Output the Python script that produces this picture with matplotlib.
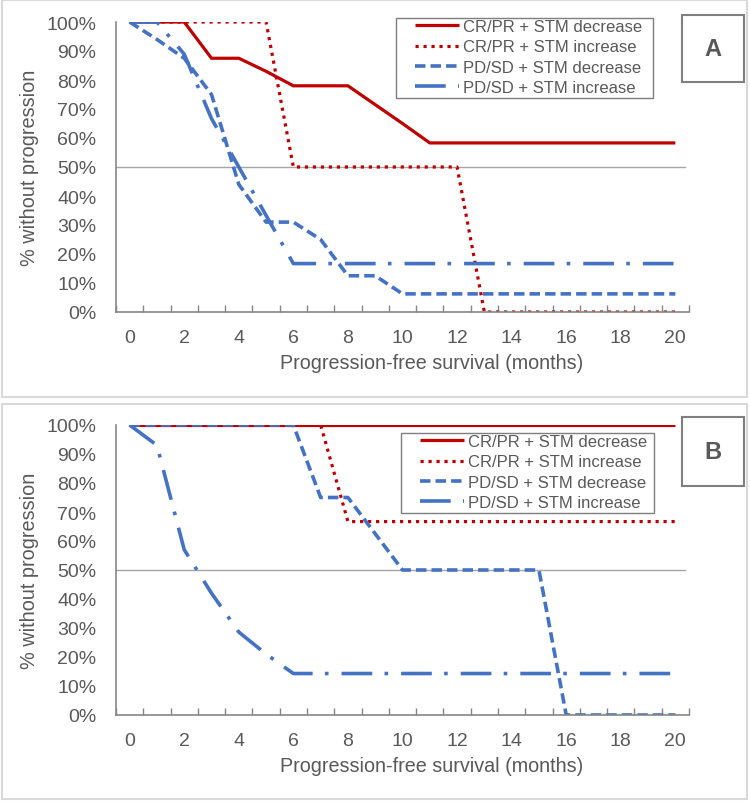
import numpy as np
import matplotlib
matplotlib.use('Agg')
import matplotlib.pyplot as plt
from matplotlib.patches import Rectangle
from matplotlib.ticker import PercentFormatter

plt.rcParams['font.family'] = ['Liberation Sans', 'DejaVu Sans']

# months 0..20 (category axis)
months = np.arange(21)

series_names = ['CR/PR + STM decrease', 'CR/PR + STM increase',
                'PD/SD + STM decrease', 'PD/SD + STM increase']

# panel A (% without progression)
a_crpr_dec = [100, 100, 100, 87.5, 87.5, 83, 78, 78, 78, 71.5, 65,
              58.3, 58.3, 58.3, 58.3, 58.3, 58.3, 58.3, 58.3, 58.3, 58.3]
a_crpr_inc = [100, 100, 100, 100, 100, 100, 50, 50, 50, 50, 50,
              50, 50, 0, 0, 0, 0, 0, 0, 0, 0]
a_pdsd_dec = [100, 94, 87.5, 75, 44, 31, 31, 25, 12.5, 12.5, 6.25,
              6.25, 6.25, 6.25, 6.25, 6.25, 6.25, 6.25, 6.25, 6.25, 6.25]
a_pdsd_inc = [100, 100, 88.9, 66.7, 50, 33.3, 16.7, 16.7, 16.7, 16.7, 16.7,
              16.7, 16.7, 16.7, 16.7, 16.7, 16.7, 16.7, 16.7, 16.7, 16.7]

# panel B
b_crpr_dec = [100] * 21
b_crpr_inc = [100, 100, 100, 100, 100, 100, 100, 100, 66.7, 66.7, 66.7,
              66.7, 66.7, 66.7, 66.7, 66.7, 66.7, 66.7, 66.7, 66.7, 66.7]
b_pdsd_dec = [100, 100, 100, 100, 100, 100, 100, 75, 75, 62.5, 50,
              50, 50, 50, 50, 50, 0, 0, 0, 0, 0]
b_pdsd_inc = [100, 93, 57, 42, 28.6, 21, 14.3, 14.3, 14.3, 14.3, 14.3,
              14.3, 14.3, 14.3, 14.3, 14.3, 14.3, 14.3, 14.3, 14.3, 14.3]

median_line = 50

red = '#C00000'
blue = '#4472C4'
txt = '#595959'
axis_gray = '#868686'

styles = [
    dict(color=red, lw=2.3, ls='-', solid_capstyle='butt'),
    dict(color=red, lw=2.3, ls=(0, (1.0, 1.5)), dash_capstyle='butt'),
    dict(color=blue, lw=2.6, ls=(0, (2.9, 1.4)), dash_capstyle='butt'),
    dict(color=blue, lw=2.6, ls=(0, (8.5, 3.4, 1.0, 3.6)), dash_capstyle='butt'),
]

fig = plt.figure(figsize=(7.5, 8.03), dpi=100)
W, H = 750, 803


def fx(px):
    return px / W


def fy(py):
    return 1 - py / H


def frame(x0, y0, x1, y1, color, lw):
    fig.add_artist(Rectangle((fx(x0), fy(y1)), fx(x1 - x0), (y1 - y0) / H,
                             transform=fig.transFigure, fill=False,
                             edgecolor=color, lw=lw))


# panel borders
frame(2, 1, 747, 398, '#D9D9D9', 1.5)
frame(2, 405, 747, 800, '#D9D9D9', 1.5)


def draw_panel(ax_top, data, leg_box, letter, box):
    ax = fig.add_axes([fx(116), fy(ax_top + 290), fx(573), 290 / H])
    ax.axhline(median_line / 100, xmin=0, xmax=0.993, color='#A6A6A6', lw=1.0, zorder=1)
    for name, vals, st in zip(series_names, data, styles):
        ax.plot(months, np.array(vals) / 100, label=name, zorder=2, **st)
    ax.set_xlim(-0.5, 20.5)
    ax.set_ylim(0, 1.0)
    ax.yaxis.set_major_locator(plt.MultipleLocator(0.1))
    ax.yaxis.set_major_formatter(PercentFormatter(1.0, decimals=0))
    ax.set_xticks(months[::2])
    ax.set_xticks(np.arange(-0.5, 21, 1), minor=True)
    ax.tick_params(axis='x', which='major', length=0, pad=12, labelsize=14, labelcolor=txt)
    ax.tick_params(axis='x', which='minor', direction='in', length=5, width=1, color=axis_gray)
    ax.tick_params(axis='y', length=0, pad=14, labelsize=14, labelcolor=txt)
    for s in ['top', 'right']:
        ax.spines[s].set_visible(False)
    for s in ['left', 'bottom']:
        ax.spines[s].set_color(axis_gray)
        ax.spines[s].set_linewidth(1.2)
    ax.set_xlabel('Progression-free survival (months)', fontsize=14.2, color=txt)
    ax.set_ylabel('% without progression', fontsize=14.3, color=txt)
    ax.xaxis.set_label_coords(0.55, -0.142)
    ax.yaxis.set_label_coords(-0.135, 0.5)
    ax.patch.set_alpha(0)

    lx0, ly0, lx1, ly1 = leg_box
    leg = ax.legend(loc='upper left', bbox_to_anchor=(fx(lx0 + 19), fy(ly0 + 1)),
                    bbox_transform=fig.transFigure, borderaxespad=0, fontsize=12,
                    handlelength=2.65, handletextpad=0.22, labelspacing=0.32,
                    borderpad=0, frameon=False)
    for t in leg.get_texts():
        t.set_color(txt)
    frame(lx0, ly0, lx1, ly1, '#7F7F7F', 1.0)

    x0, y0, x1, y1 = box
    frame(x0, y0, x1, y1, '#7F7F7F', 1.5)
    fig.text(fx((x0 + x1) / 2), fy((y0 + y1) / 2), letter, ha='center', va='center',
             fontsize=17, fontweight='bold', color=txt)
    return ax


draw_panel(23, [a_crpr_dec, a_crpr_inc, a_pdsd_dec, a_pdsd_inc],
           (396, 19, 653, 99), 'A', (682, 16, 744, 83))
draw_panel(426, [b_crpr_dec, b_crpr_inc, b_pdsd_dec, b_pdsd_inc],
           (401, 434, 654, 514), 'B', (682, 418, 744, 487))

fig.savefig('out.png', dpi=100)
